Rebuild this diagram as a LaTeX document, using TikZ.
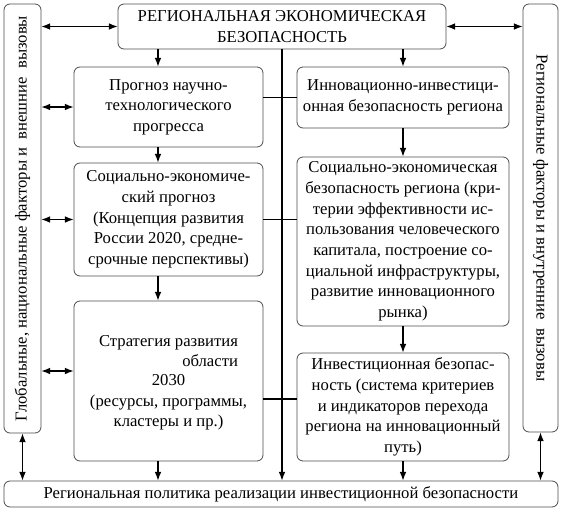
\documentclass[tikz,border=0pt]{standalone}
\usepackage{fontspec}
\setmainfont{Liberation Serif}
\usetikzlibrary{arrows.meta, positioning}
\tikzstyle{block} = [rectangle, rounded corners=4.5pt, draw=black!70, line width=0.6pt, align=center, inner sep=1pt, font=\fontsize{12.5}{15.5}\selectfont]
\tikzstyle{arrow} = [line width=0.9pt, -{Latex[length=6.5pt,width=5pt]}]
\tikzstyle{biarrow} = [line width=0.9pt, {Latex[length=6.5pt,width=5pt]}-{Latex[length=6.5pt,width=5pt]}]
\tikzstyle{link} = [line width=0.9pt]

\begin{document}
\begin{tikzpicture}[x=0.75pt, y=-0.75pt]
\useasboundingbox (0,0) rectangle (564,514);

% Main blocks
\node (security) [block, minimum width=246pt, minimum height=33.75pt] at (282,26.5) {РЕГИОНАЛЬНАЯ ЭКОНОМИЧЕСКАЯ\\БЕЗОПАСНОСТЬ};
\node (global) [block, minimum width=27.75pt, minimum height=321.75pt] at (22.5,218.5) {\rotatebox{90}{Глобальные, национальные факторы и\ \ внешние\ \ вызовы}};
\node (regional) [block, minimum width=26.25pt, minimum height=321pt] at (540.5,218) {\rotatebox{-90}{Региональные факторы и внутренние\ \ вызовы}};
\node (policy) [block, minimum width=415.5pt, minimum height=19.5pt] at (281,494) {Региональная политика реализации инвестиционной безопасности};

% Left column
\node (forecast) [block, minimum width=141.75pt, minimum height=60pt] at (168.5,107) {Прогноз научно-\\технологического\\прогресса};
\node (socforecast) [block, minimum width=141.75pt, minimum height=84.75pt] at (168.5,219.5) {Социально-экономиче-\\ский прогноз\\(Концепция развития\\России 2020, средне-\\срочные перспективы)};
\node (strategy) [block, minimum width=141.75pt, minimum height=120pt] at (168.5,381) {\begin{tabular}{@{}r@{}}Стратегия развития\\области\end{tabular}\\2030\\(ресурсы, программы,\\кластеры и пр.)};

% Right column
\node (innov) [block, minimum width=159pt, minimum height=45.75pt] at (403,97.5) {Инновационно-инвестици-\\онная безопасность региона};
\node (socsec) [block, minimum width=159pt, minimum height=126.75pt] at (403,241.5) {Социально-экономическая\\безопасность региона (кри-\\терии эффективности ис-\\пользования человеческого\\капитала, построение со-\\циальной инфраструктуры,\\развитие инновационного\\рынка)};
\node (invsec) [block, minimum width=159pt, minimum height=81pt] at (403,407) {Инвестиционная безопас-\\ность (система критериев\\и индикаторов перехода\\региона на инновационный\\путь)};

% Helper coordinates
\coordinate (lx) at (158,0);
\coordinate (mx) at (282,0);
\coordinate (h3) at (0,399);
\coordinate (h4) at (0,371);

% Vertical flows
\draw [arrow] (security.south -| lx) -- (forecast.north -| lx);
\draw [arrow] (forecast.south -| lx) -- (socforecast.north -| lx);
\draw [arrow] (socforecast.south -| lx) -- (strategy.north -| lx);
\draw [arrow] (strategy.south -| lx) -- (policy.north -| lx);
\draw [arrow] (security.south -| innov) -- (innov.north);
\draw [arrow] (innov.south) -- (socsec.north);
\draw [arrow] (socsec.south) -- (invsec.north);
\draw [arrow] (invsec.south) -- (invsec.south |- policy.north);
\draw [arrow] (security.south -| mx) -- (policy.north -| mx);

% Cross links
\draw [link] (innov.west -| forecast.east) -- (innov.west);
\draw [link] (socforecast.east) -- (socforecast.east -| socsec.west);
\draw [link] (strategy.east |- h3) -- (invsec.west |- h3);

% Side factors
\draw [biarrow] (global.east |- security.west) -- (security.west);
\draw [biarrow] (security.east) -- (security.east -| regional.west);
\draw [biarrow] (global.east |- forecast.west) -- (forecast.west);
\draw [biarrow] (global.east |- socforecast.west) -- (socforecast.west);
\draw [biarrow] (global.east |- h4) -- (strategy.west |- h4);
\draw [biarrow] (global.south) -- (global.south |- policy.north);
\draw [biarrow] (regional.south) -- (regional.south |- policy.north);

\end{tikzpicture}
\end{document}
